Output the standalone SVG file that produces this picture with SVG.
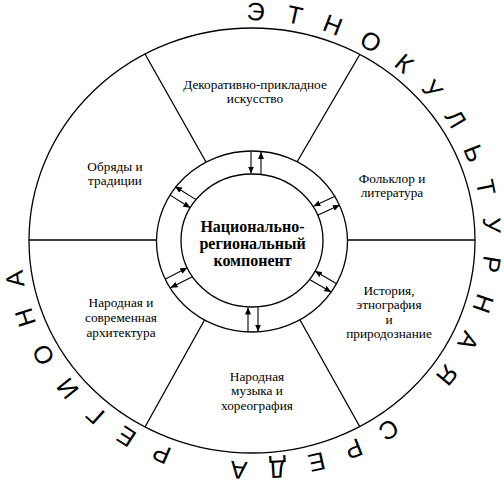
<svg xmlns="http://www.w3.org/2000/svg" width="504" height="483" viewBox="0 0 504 483">
<defs>
<style>
.ln{fill:none;stroke:#000;stroke-width:1.3}
.ar{fill:none;stroke:#000;stroke-width:1.1;marker-end:url(#ah)}
.lb{font-size:13.3px;fill:#000;text-anchor:middle}
.ct{font-size:16px;font-weight:bold;fill:#000;text-anchor:middle}
.rim{font-size:25px;fill:#000;letter-spacing:21.2px;word-spacing:10px}
</style>
<marker id="ah" markerWidth="7" markerHeight="6" refX="7" refY="3" orient="auto" markerUnits="userSpaceOnUse"><path d="M0,0 L7,3 L0,6 z" fill="#000"/></marker>
<path id="rimPath" d="M172.8,33.8 A231.5,220.5 0 0 1 331.2,448.2 A231.5,220.5 0 0 1 172.8,33.8"/>
</defs>
<rect width="504" height="483" fill="#fff"/>
<g id="outer-circle"><ellipse class="ln" cx="252" cy="240.5" rx="223" ry="212.5"/></g>
<g id="ring"><ellipse class="ln" cx="252" cy="241.5" rx="95.5" ry="90.5"/></g>
<g id="core" font-family="Liberation Serif, Times New Roman, serif">
<ellipse class="ln" cx="252" cy="240.5" rx="71" ry="66.5"/>
<text class="ct" x="252.5" y="232">Национально-</text>
<text class="ct" x="252.5" y="249">региональный</text>
<text class="ct" x="252.5" y="266">компонент</text>
</g>
<g id="connectors">
<path class="ln" d="M29,240 L156.5,240 M347.5,240 L475,240 M145,54 L206,162 M359.5,55 L297,162 M300,320 L360,427 M204.5,320 L145,427"/>
<path class="ar" d="M251,151.5 L251,173.5"/>
<path class="ar" d="M261,174 L261,152"/>
<path class="ar" d="M248,332 L248,307.5"/>
<path class="ar" d="M258,307 L258,331.5"/>
<path class="ar" d="M195.6,199.4 L175,186.5"/>
<path class="ar" d="M169.7,194.9 L190.3,207.8"/>
<path class="ar" d="M335.6,196 L313.4,206.3"/>
<path class="ar" d="M317.6,215.3 L339.8,205"/>
<path class="ar" d="M336.2,283.4 L314.9,271.1"/>
<path class="ar" d="M309.9,279.7 L331.2,292"/>
<path class="ar" d="M165.5,278.9 L187.3,267.8"/>
<path class="ar" d="M192.3,276.7 L170.5,287.8"/>
</g>
<g font-family="Liberation Serif, Times New Roman, serif">
<g id="n-decor"><text class="lb" x="255" y="88.5">Декоративно-прикладное</text><text class="lb" x="255" y="102.5">искусство</text></g>
<g id="n-folklore"><text class="lb" x="392" y="183">Фольклор и</text><text class="lb" x="392" y="197">литература</text></g>
<g id="n-history"><text class="lb" x="389" y="294.5">История,</text><text class="lb" x="389" y="309">этнография</text><text class="lb" x="389" y="323.5">и</text><text class="lb" x="389" y="338">природознание</text></g>
<g id="n-music"><text class="lb" x="257" y="380.5">Народная</text><text class="lb" x="257" y="395">музыка и</text><text class="lb" x="257" y="410">хореография</text></g>
<g id="n-arch"><text class="lb" x="121" y="307">Народная и</text><text class="lb" x="121" y="322">современная</text><text class="lb" x="121" y="337">архитектура</text></g>
<g id="n-rites"><text class="lb" x="115" y="170.5">Обряды и</text><text class="lb" x="115" y="185">традиции</text></g>
</g>
<g id="rim-title" font-family="Liberation Sans, Arial, sans-serif"><text class="rim"><textPath href="#rimPath" startOffset="75">ЭТНОКУЛЬТУРНАЯ СРЕДА РЕГИОНА</textPath></text></g>
</svg>
